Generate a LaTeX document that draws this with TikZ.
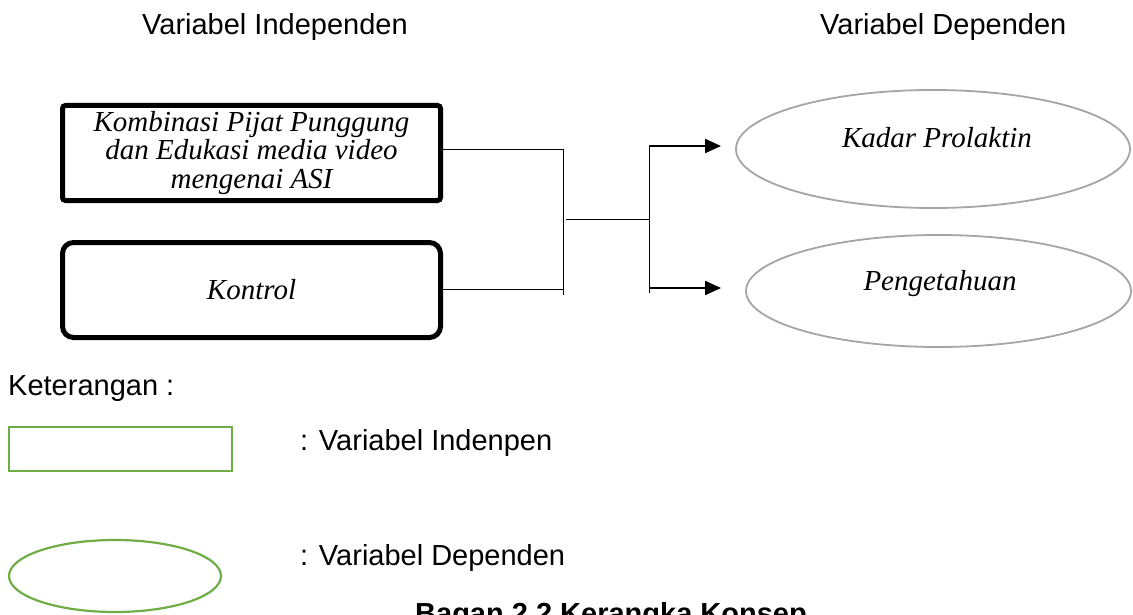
\documentclass[tikz,border=0pt]{standalone}
\usepackage{fontspec}
\setmainfont{Liberation Serif}
\setsansfont{Liberation Sans}
\usetikzlibrary{shapes.geometric,arrows.meta}
\definecolor{ellgray}{RGB}{165,165,165}
\definecolor{leggreen}{RGB}{112,173,71}
\newcommand\bigsz{\fontsize{29}{28.5}\selectfont}
\begin{document}
\begin{tikzpicture}[x=1pt,y=-1pt,
  ivbox/.style={draw=black,line width=5pt,minimum width=378pt,minimum height=95pt,inner sep=0pt,align=center,font=\bigsz\itshape},
  dvell/.style={ellipse,draw=ellgray,line width=1.8pt,inner sep=0pt},
  ellabel/.style={anchor=base,font=\bigsz\itshape,inner sep=0pt},
  sanslabel/.style={anchor=base west,font=\bigsz\sffamily,inner sep=0pt},
  thinline/.style={line width=0.9pt},
  arrowline/.style={line width=2.2pt,-{Triangle[length=16pt,width=14pt]}},
  legrect/.style={draw=leggreen,line width=2.2pt,minimum width=223pt,minimum height=44pt,inner sep=0pt},
  legell/.style={ellipse,draw=leggreen,line width=2.2pt,minimum width=212pt,minimum height=72pt,inner sep=0pt}]
\clip (0,0) rectangle (1133,615);
\fill[white] (0,0) rectangle (1133,615);
% headers
\node[sanslabel] (hind) at (142,35) {Variabel Independen};
\node[sanslabel] (hdep) at (820,35) {Variabel Dependen};
% independent boxes
\node[ivbox,rounded corners=3pt] (b1) at (251.5,153) {Kombinasi Pijat Punggung\\dan Edukasi media video\\mengenai ASI};
\node[ivbox,rounded corners=11pt] (b2) at (251.5,290) {Kontrol};
% dependent ellipses
\node[dvell,minimum width=394pt,minimum height=118pt] (e1) at (933,149) {};
\node[ellabel] (e1t) at (937,148) {Kadar Prolaktin};
\node[dvell,minimum width=385pt,minimum height=112pt] (e2) at (938.5,291) {};
\node[ellabel] (e2t) at (940,290) {Pengetahuan};
% connectors
\coordinate (j1t) at (563,149);
\coordinate (j1b) at (563,295);
\coordinate (j1m) at (566,219);
\coordinate (j2t) at (649,146);
\coordinate (j2b) at (649,293);
\coordinate (j2m) at (649,219);
\coordinate (a1s) at (649,146);
\coordinate (a1e) at (721,146);
\coordinate (a2s) at (649,288);
\coordinate (a2e) at (721,288);
\draw[thinline] (b1.east |- j1t) -- (j1t);
\draw[thinline] (b2.east |- 0,289) -- (563,289);
\draw[thinline] (j1t) -- (j1b);
\draw[thinline] (j1m) -- (j2m);
\draw[thinline] (j2t) -- (j2b);
\draw[arrowline] (a1s) -- (a1e);
\draw[arrowline] (a2s) -- (a2e);
% legend
\node[sanslabel] (ket) at (8,395) {Keterangan :};
\node[legrect] (lr) at (120.5,449) {};
\node[sanslabel] (lrt) at (300,450) {: Variabel Indenpen};
\node[legell] (le) at (115,576) {};
\node[sanslabel] (let) at (300,565) {: Variabel Dependen};
% caption
\node[anchor=base west,font=\bigsz\sffamily\bfseries,inner sep=0pt] (cap) at (415,623) {Bagan 2.2 Kerangka Konsep};
\end{tikzpicture}
\end{document}
